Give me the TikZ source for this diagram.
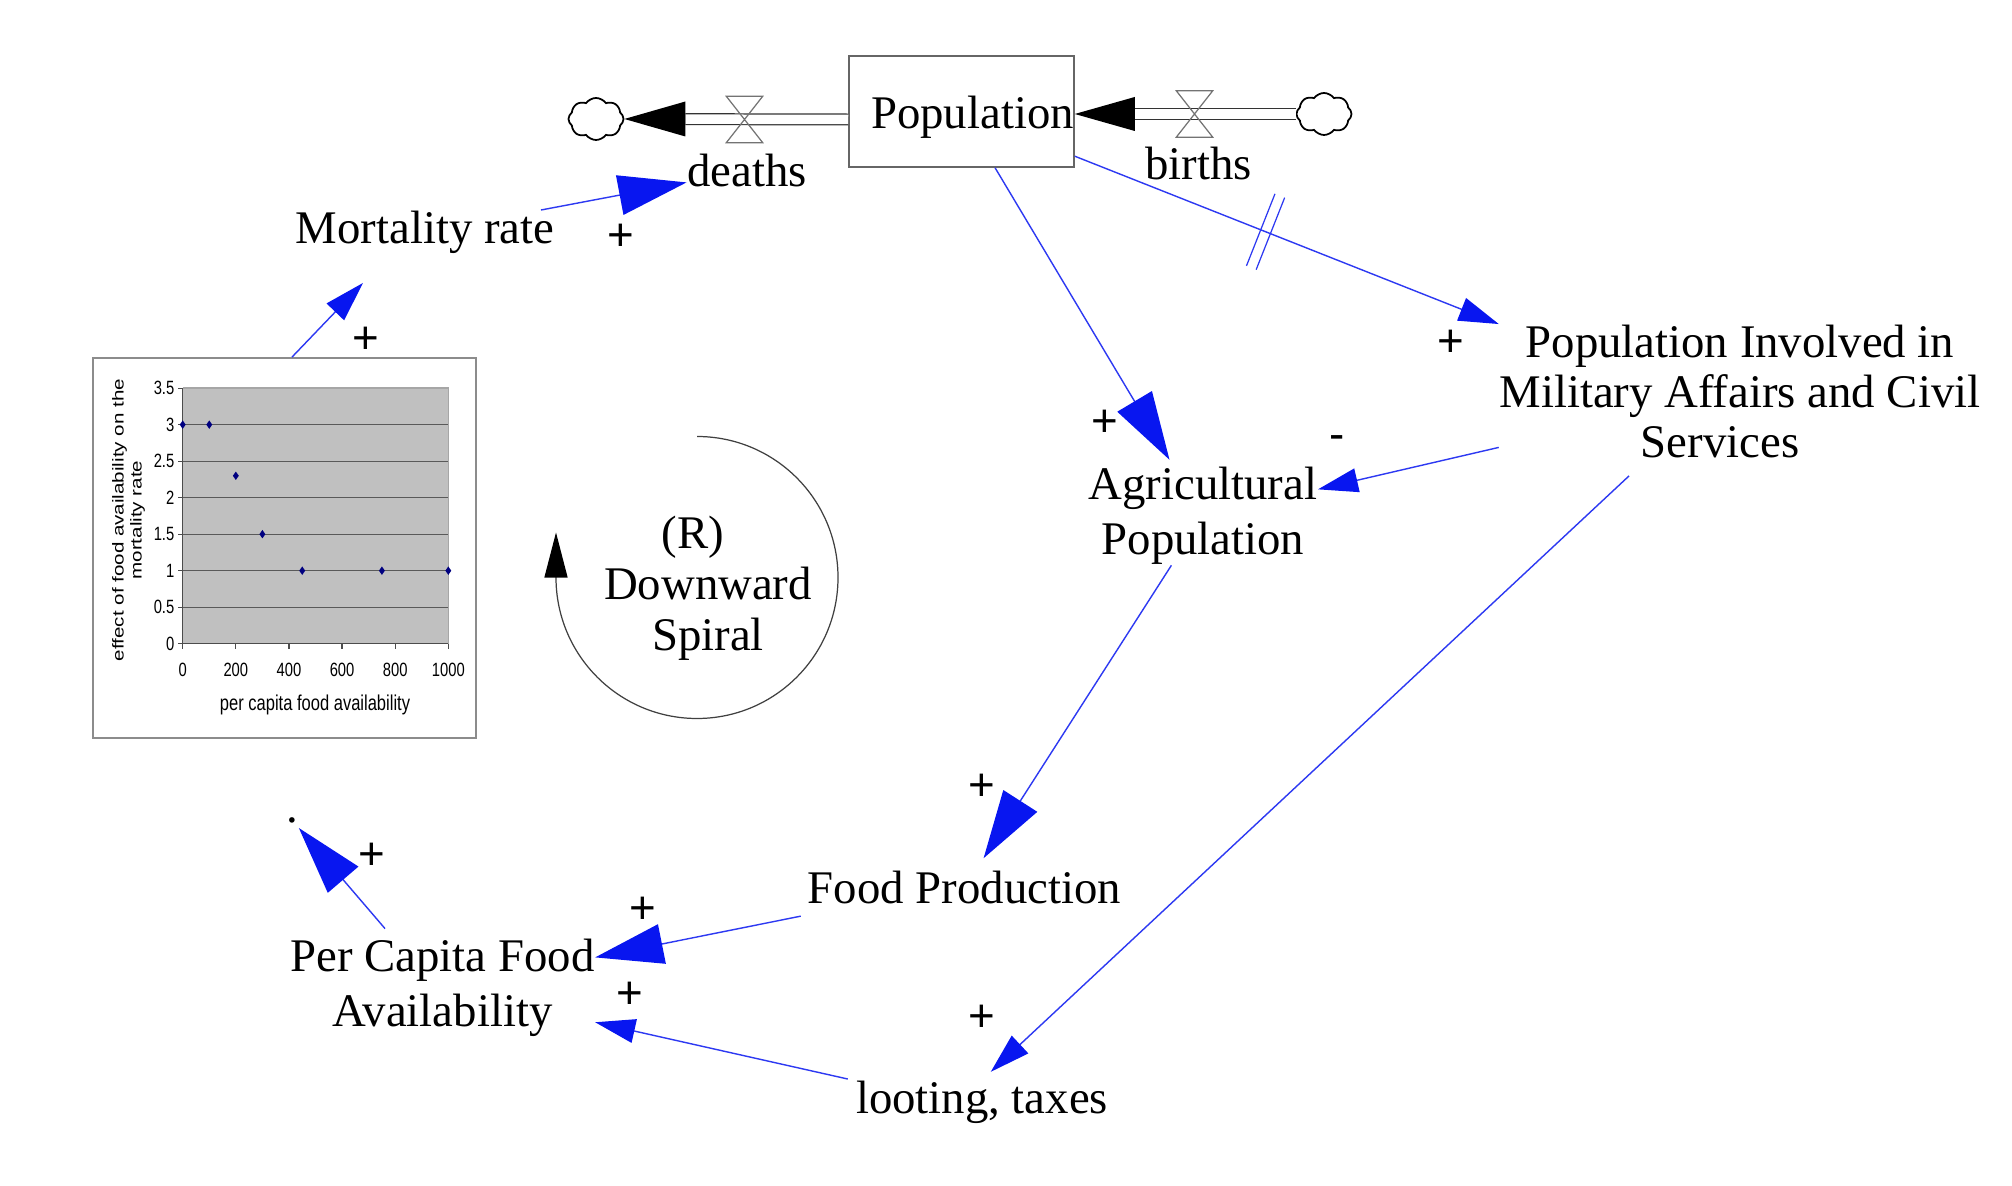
\documentclass[tikz,border=0pt]{standalone}
\usepackage{fontspec}
\setmainfont{Liberation Serif}
\newfontfamily\chartfont{Liberation Sans}
\usepackage{tikz}
\usetikzlibrary{arrows.meta}
\usetikzlibrary{shapes.geometric}
\usetikzlibrary{shapes.symbols}
\definecolor{linkblue}{RGB}{8,22,240}
\definecolor{chartgray}{RGB}{192,192,192}
\definecolor{chartnavy}{RGB}{0,0,128}
\tikzset{
 var/.style={inner sep=0pt, align=center, font=\fontsize{13.3}{15.6}\selectfont},
 stock/.style={draw=black!60, line width=0.4pt, fill=white, minimum width=2.25cm, minimum height=1.11cm, inner sep=0pt},
 cloudnode/.style={cloud, draw=black, line width=0.5pt, cloud puffs=8, cloud puff arc=110, aspect=1.3, minimum width=0.55cm, minimum height=0.42cm, inner sep=0pt},
 valve/.style={minimum width=0.35cm, minimum height=0.45cm, inner sep=0pt},
 valveline/.style={draw=black!55, line width=0.35pt},
 pipe/.style={draw=black!80, line width=0.35pt, double=white, double distance=0.095cm},
 biglink/.style={draw=linkblue!85, line width=0.4pt, -{Triangle[length=0.68cm,width=0.4cm,color=linkblue]}},
 smalllink/.style={draw=linkblue!85, line width=0.4pt, -{Triangle[length=0.4cm,width=0.24cm,color=linkblue]}},
 delaybox/.style={minimum width=0.09cm, minimum height=0.76cm, inner sep=0pt},
 sign/.style={font=\chartfont\fontsize{13}{13}\selectfont, inner sep=0pt},
 graphbox/.style={draw=black!45, line width=0.45pt, fill=white, minimum width=3.83cm, minimum height=3.8cm, inner sep=0pt},
 ticklabel/.style={font=\chartfont\fontsize{4.2}{5}\selectfont, inner sep=0pt, yscale=1.3},
 ptmark/.style={diamond, fill=chartnavy, minimum width=0.065cm, minimum height=0.09cm, inner sep=0pt},
 loopline/.style={draw=black!75, line width=0.35pt, -{Triangle[length=0.45cm,width=0.23cm,color=black]}}
}

\begin{document}
\begin{tikzpicture}[x=0.01cm, y=-0.01cm]
\path[use as bounding box, fill=white] (0,0) rectangle (2012,1186);

\node[graphbox] (graph) at (284.5,548) {};
\begin{scope}[shift={(182.7,643.7)}, x=0.00265cm, y=0.7297cm]
\fill[chartgray] (0,0) rectangle (1000,3.5);
\draw[black!35, line width=0.4pt] (0,3.5) -- (1000,3.5) -- (1000,0);
\foreach \y in {0.5,1,...,3} {
 \draw[black!65, line width=0.35pt] (0,\y) -- (1000,\y);
}
\draw[black!70, line width=0.45pt] (0,3.5) -- (0,0) -- (1000,0);
\foreach \x in {0,200,...,1000} {
 \draw[black!70, line width=0.35pt] (\x,0) --++(0,-0.07);
 \node[ticklabel] (xt\x) at (\x,-0.36) {\x};
}
\foreach \y [count=\k] in {0,0.5,1,1.5,2,2.5,3,3.5} {
 \draw[black!70, line width=0.35pt] (0,\y) --++(-19,0);
 \node[ticklabel, anchor=east] (yt\k) at (-29,\y) {\y};
}
\foreach \px/\py [count=\k] in {0/3,100/3,200/2.3,300/1.5,450/1,750/1,1000/1} {
 \node[ptmark] (pt\k) at (\px,\py) {};
}
\end{scope}
\node[font=\chartfont\fontsize{4.7}{5.5}\selectfont, inner sep=0pt, yscale=1.3] (xtitle) at (315,705) {per capita food availability};
\node[font=\chartfont\fontsize{4.5}{5.1}\selectfont, inner sep=0pt, align=center, rotate=90, xscale=1.3] (ytitle) at (128.5,520) {effect of food availability on the\\mortality rate};

\node[var, font=\fontsize{13.3}{14.5}\selectfont] (loop) at (708,588) {(R)\hspace*{0.3cm}\\Downward\\Spiral};
\coordinate (loopc) at (697,577.5);
\draw[loopline] ([shift={(0,-141)}]loopc) arc[start angle=-90, end angle=180, radius=141] -- ++(0,-45);

\node[stock, label={[name=poplabel, var, shift={(11,5.5)}]center:Population}] (pop) at (961.5,111.5) {};
\node[cloudnode] (sink) at (596,119) {};
\node[cloudnode] (src) at (1324,114) {};
\node[valve] (vdeaths) at (744.5,119.5) {};
\node[valve] (vbirths) at (1194.5,114) {};
\node[var] (deaths) at (747,171) {deaths};
\node[var] (births) at (1198.5,164) {births};
\node[var] (mort) at (425,232) {Mortality rate};
\node[var] (agri) at (1203,516) {Agricultural\\Population};
\node[var, font=\fontsize{13.3}{14.3}\selectfont] (popinv) at (1740,391.5) {Population Involved in\\Military Affairs and Civil\\Services\hspace*{0.4cm}};
\node[var] (food) at (964.5,888) {Food Production};
\node[var] (loot) at (982,1102) {looting, taxes};
\node[var] (percap) at (442.5,988) {Per Capita Food\\Availability};
\node[var] (dot) at (292,820) {.};

\draw[pipe, shorten >=0.61cm] (pop.west |- vdeaths) -- (sink.east);
\fill[black] (sink.east) -- ++(61,-17.5) -- ++(0,35) -- cycle;
\draw[pipe, shorten >=0.6cm] (src.west) -- (pop.east |- src);
\fill[black] (pop.east |- src) -- ++(60,-17) -- ++(0,34) -- cycle;
\draw[valveline] (vdeaths.north west) -- (vdeaths.south east) -- (vdeaths.south west) -- (vdeaths.north east) -- cycle;
\draw[valveline] (vbirths.north west) -- (vbirths.south east) -- (vbirths.south west) -- (vbirths.north east) -- cycle;

\draw[biglink] (mort) -- (deaths);
\draw[smalllink] ([shift={(7.5,0)}]graph.north) -- ([shift={(-62,29)}]mort.south);
\draw[biglink, shorten >=0.06cm] ([shift={(-57.5,-10)}]percap.north) -- (dot);
\draw[biglink] ([shift={(-6.5,11)}]food.south west) -- (percap);
\draw[smalllink] ([shift={(-7.5,-1)}]loot.north west) -- (percap);
\draw[biglink, shorten >=0.08cm] (pop) -- (agri);
\draw[smalllink] (pop) -- node[pos=0.45, sloped, delaybox] (dly) {} (popinv.north west);
\draw[draw=linkblue!85, line width=0.35pt] (dly.north west) -- (dly.south west) (dly.north east) -- (dly.south east);
\draw[smalllink] (popinv) -- (agri);
\draw[biglink, shorten >=0.15cm] (agri) -- (food);
\draw[smalllink, shorten >=0.12cm] ([shift={(-111,17)}]popinv.south) -- (loot.north);

\foreach \sx/\sy/\s [count=\k] in {621/237/+,366/340/+,372/856/+,643/910/+,630/995/+,1105/423/+,1451/343/+,1337/443/-,982/787/+,982/1018/+} {
 \node[sign] (pm\k) at (\sx,\sy) {\s};
}
\end{tikzpicture}
\end{document}
